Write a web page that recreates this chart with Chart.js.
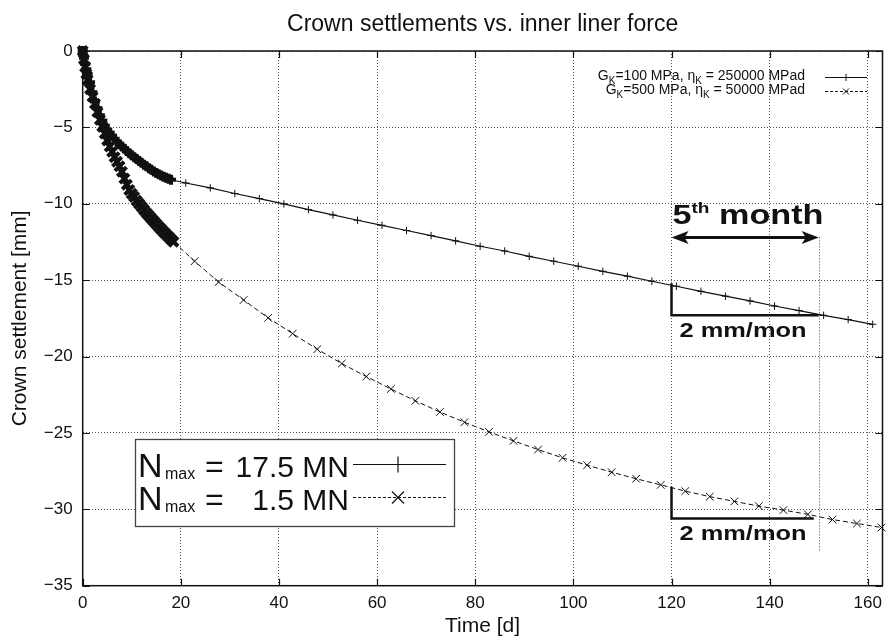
<!DOCTYPE html>
<html>
<head>
<meta charset="utf-8">
<script src="https://cdn.jsdelivr.net/npm/chart.js@4.4.1/dist/chart.umd.min.js"></script>
<style>
  html, body { margin: 0; padding: 0; background: #fff; }
  #wrap { width: 893px; height: 640px; }
</style>
</head>
<body>
<div id="wrap"><canvas id="chart" width="893" height="640"></canvas></div>
<script>
// ---- data ----
const titleText = "Crown settlements vs. inner liner force";
const xTitle = "Time [d]";
const yTitle = "Crown settlement [mm]";
const xTickValues = [0, 20, 40, 60, 80, 100, 120, 140, 160];
const yTickValues = [0, -5, -10, -15, -20, -25, -30, -35];

// N_max = 17.5 MN (G_K=100 MPa, eta_K = 250000 MPad), solid line with +
const stiffDays = [0, 0.25, 0.5, 0.75, 1, 1.5, 2, 2.5, 3, 3.5, 4, 4.5, 5, 5.5, 6, 6.5, 7, 7.5, 8, 8.5, 9, 9.5,
  10, 10.5, 11, 11.5, 12, 12.5, 13, 13.5, 14, 14.5, 15, 15.5, 16, 16.5, 17, 17.5, 18,
  21, 26, 31, 36, 41, 46, 51, 56, 61, 66, 71, 76, 81, 86, 91, 96, 101, 106, 111, 116, 121, 126, 131,
  136, 141, 146, 151, 156, 161];
const stiffSettle = [0, -0.45, -0.85, -1.2, -1.5, -2.05, -2.7, -3.3, -3.75, -4.2, -4.55, -4.9, -5.15, -5.35, -5.55, -5.75, -5.95, -6.1, -6.25, -6.4, -6.55, -6.7,
  -6.82, -6.95, -7.07, -7.2, -7.32, -7.45, -7.55, -7.67, -7.78, -7.88, -7.98, -8.07, -8.15, -8.23, -8.3, -8.37, -8.43,
  -8.64, -8.96, -9.33, -9.66, -10.01, -10.38, -10.73, -11.08, -11.41, -11.75, -12.08, -12.43, -12.78, -13.09, -13.44, -13.76, -14.09, -14.42, -14.74, -15.07, -15.4, -15.73, -16.05,
  -16.36, -16.69, -16.99, -17.3, -17.58, -17.89];

// N_max = 1.5 MN (G_K=500 MPa, eta_K = 50000 MPad), dashed line with x
const softDays = [0, 0.25, 0.5, 0.75, 1, 1.5, 2, 2.5, 3, 3.5, 4, 4.5, 5, 5.5, 6, 6.5, 7, 7.5, 8, 8.5, 9, 9.5,
  10, 10.5, 11, 11.5, 12, 12.5, 13, 13.5, 14, 14.5, 15, 15.5, 16, 16.5, 17, 17.5, 18, 18.5,
  22.8, 27.7, 32.8, 37.8, 42.8, 47.8, 52.8, 57.8, 62.8, 67.8, 72.8, 77.8, 82.8, 87.8, 92.8, 97.8, 102.8, 107.8,
  112.8, 117.8, 122.8, 127.8, 132.8, 137.8, 142.8, 147.8, 152.8, 157.8, 162.8];
const softSettle = [0, -0.55, -1.05, -1.5, -1.9, -2.5, -3.0, -3.45, -4.0, -4.5, -4.95, -5.4, -5.85, -6.25, -6.6, -6.95, -7.25, -7.55, -7.9, -8.35, -8.75, -9.1,
  -9.35, -9.55, -9.8, -10.0, -10.2, -10.4, -10.6, -10.78, -10.96, -11.14, -11.32, -11.5, -11.67, -11.84, -12.0, -12.16, -12.32, -12.48,
  -13.76, -15.12, -16.3, -17.47, -18.5, -19.52, -20.46, -21.31, -22.12, -22.9, -23.63, -24.3, -24.93, -25.52, -26.09, -26.63, -27.11, -27.57,
  -28.0, -28.4, -28.81, -29.17, -29.48, -29.79, -30.05, -30.33, -30.67, -30.93, -31.19];

const keyLabels = [
  [["G", 0], ["K", 1], ["=100 MPa, \u03b7", 0], ["K", 1], [" = 250000 MPad", 0]],
  [["G", 0], ["K", 1], ["=500 MPa, \u03b7", 0], ["K", 1], [" = 50000 MPad", 0]]
];
const forceLabels = ["17.5 MN", "1.5 MN"];

// annotation anchors (data units)
const monthStart = 120, monthEnd = 150, monthArrowY = -12.2;
const slopeMarks = [
  { top: -15.2, bottom: -17.3, end: 150, textY: -18.72 },
  { top: -28.53, bottom: -30.6, end: 149, textY: -32.0 }
];

const FONT = "'Liberation Sans', Arial, Helvetica, sans-serif";
const INK = "#111";
const DENSE_END = 19; // hourly readings before this day are drawn as heavy blobs

function toPoints(xs, ys) {
  return xs.map((x, i) => ({ x: x, y: ys[i] }));
}

function drawMark(ctx, style, x, y, r, lw) {
  ctx.save();
  ctx.lineWidth = lw;
  ctx.strokeStyle = INK;
  ctx.setLineDash([]);
  ctx.beginPath();
  if (style === "cross") {
    ctx.moveTo(x - r, y); ctx.lineTo(x + r, y);
    ctx.moveTo(x, y - r); ctx.lineTo(x, y + r);
  } else {
    ctx.moveTo(x - r, y - r); ctx.lineTo(x + r, y + r);
    ctx.moveTo(x - r, y + r); ctx.lineTo(x + r, y - r);
  }
  ctx.stroke();
  ctx.restore();
}

// draws runs of text {t, size, dy}, squeezed/stretched to a target width
function drawRunsFit(ctx, runs, x, y, weight, target) {
  let w = 0;
  runs.forEach(r => { ctx.font = weight + " " + r.size + "px " + FONT; w += ctx.measureText(r.t).width; });
  ctx.save();
  ctx.translate(x, y);
  if (target) ctx.scale(target / w, 1);
  let cx = 0;
  ctx.textAlign = "left";
  ctx.textBaseline = "alphabetic";
  runs.forEach(r => {
    ctx.font = weight + " " + r.size + "px " + FONT;
    ctx.fillText(r.t, cx, r.dy || 0);
    cx += ctx.measureText(r.t).width;
  });
  ctx.restore();
}

const decor = {
  id: "decor",
  afterDraw(chart) {
    const ctx = chart.ctx;
    const { left, top, right, bottom } = chart.chartArea;
    const xs = chart.scales.x, ys = chart.scales.y;
    ctx.save();
    ctx.fillStyle = INK;
    ctx.strokeStyle = INK;

    // title
    ctx.font = "23px " + FONT;
    ctx.textAlign = "center";
    ctx.textBaseline = "middle";
    ctx.fillText(titleText, (left + right) / 2, 25);

    // frame and inward ticks
    ctx.lineWidth = 1.5;
    ctx.strokeRect(left, top, right - left, bottom - top);
    ctx.lineWidth = 1.2;
    ctx.beginPath();
    xTickValues.forEach(v => {
      const p = Math.round(xs.getPixelForValue(v)) + 0.5;
      ctx.moveTo(p, bottom); ctx.lineTo(p, bottom - 7);
      ctx.moveTo(p, top); ctx.lineTo(p, top + 7);
    });
    yTickValues.forEach(v => {
      const p = Math.round(ys.getPixelForValue(v)) + 0.5;
      ctx.moveTo(left, p); ctx.lineTo(left + 7, p);
      ctx.moveTo(right, p); ctx.lineTo(right - 7, p);
    });
    ctx.stroke();

    // 5th month annotation
    const mx0 = xs.getPixelForValue(monthStart), mx1 = xs.getPixelForValue(monthEnd);
    const my = ys.getPixelForValue(monthArrowY);
    ctx.save();
    ctx.lineWidth = 1;
    ctx.strokeStyle = "#444";
    ctx.setLineDash([1, 2]);
    ctx.beginPath();
    ctx.moveTo(Math.round(mx1) + 0.5, my);
    ctx.lineTo(Math.round(mx1) + 0.5, ys.getPixelForValue(-32.8));
    ctx.stroke();
    ctx.restore();

    ctx.lineWidth = 3;
    ctx.beginPath();
    ctx.moveTo(mx0 + 10, my); ctx.lineTo(mx1 - 10, my);
    ctx.stroke();
    ctx.beginPath();
    ctx.moveTo(mx0, my); ctx.lineTo(mx0 + 17, my - 6.5); ctx.lineTo(mx0 + 13, my); ctx.lineTo(mx0 + 17, my + 6.5); ctx.closePath();
    ctx.moveTo(mx1, my); ctx.lineTo(mx1 - 17, my - 6.5); ctx.lineTo(mx1 - 13, my); ctx.lineTo(mx1 - 17, my + 6.5); ctx.closePath();
    ctx.fill();
    drawRunsFit(ctx, [{ t: "5", size: 27 }, { t: "th", size: 15, dy: -11 }, { t: " month", size: 27 }],
      mx0 + 1, my - 13, "bold", 151);

    // slope triangles
    ctx.lineWidth = 2.5;
    ctx.lineJoin = "miter";
    slopeMarks.forEach(s => {
      const x0 = xs.getPixelForValue(monthStart), x1 = xs.getPixelForValue(s.end);
      ctx.beginPath();
      ctx.moveTo(x0, ys.getPixelForValue(s.top));
      ctx.lineTo(x0, ys.getPixelForValue(s.bottom));
      ctx.lineTo(x1, ys.getPixelForValue(s.bottom));
      ctx.stroke();
      drawRunsFit(ctx, [{ t: "2 mm/mon", size: 21 }], x0 + 8, ys.getPixelForValue(s.textY), "bold", 127);
    });

    // key, top right
    ctx.lineWidth = 1;
    keyLabels.forEach((runs, i) => {
      const base = 80 + i * 14;
      let w = 0;
      runs.forEach(r => { ctx.font = (r[1] ? 10 : 14) + "px " + FONT; w += ctx.measureText(r[0]).width; });
      let x = 805 - w;
      ctx.textAlign = "left";
      ctx.textBaseline = "alphabetic";
      runs.forEach(r => {
        ctx.font = (r[1] ? 10 : 14) + "px " + FONT;
        ctx.fillText(r[0], x, base + (r[1] ? 4 : 0));
        x += ctx.measureText(r[0]).width;
      });
      const ly = base - 3 + 0.5;
      ctx.save();
      ctx.setLineDash(i === 0 ? [] : [3, 2]);
      ctx.beginPath();
      ctx.moveTo(825, ly); ctx.lineTo(867, ly);
      ctx.stroke();
      ctx.restore();
      drawMark(ctx, i === 0 ? "cross" : "x", 846, ly, i === 0 ? 3.5 : 3, 1);
    });

    // N_max box, bottom left
    ctx.fillStyle = "#fff";
    ctx.fillRect(135, 439, 319, 87);
    ctx.strokeStyle = "#444";
    ctx.lineWidth = 1.3;
    ctx.strokeRect(135.5, 439.5, 319, 87);
    ctx.fillStyle = INK;
    ctx.strokeStyle = INK;
    forceLabels.forEach((lab, i) => {
      const base = 477 + i * 33;
      ctx.textBaseline = "alphabetic";
      ctx.textAlign = "left";
      ctx.font = "34px " + FONT;
      ctx.fillText("N", 138, base);
      ctx.font = "16px " + FONT;
      ctx.fillText("max", 165, base + 2);
      ctx.font = "32px " + FONT;
      ctx.fillText("=", 205, base);
      ctx.textAlign = "right";
      ctx.font = "30px " + FONT;
      ctx.fillText(lab, 349, base);
      const ly = base - 12.5;
      ctx.save();
      ctx.lineWidth = 1;
      ctx.setLineDash(i === 0 ? [] : [3, 2]);
      ctx.beginPath();
      ctx.moveTo(353, ly); ctx.lineTo(446, ly);
      ctx.stroke();
      ctx.restore();
      drawMark(ctx, i === 0 ? "cross" : "x", 398, ly, i === 0 ? 8 : 6, 1.2);
    });
    ctx.restore();
  }
};

const isDense = c => c.raw && c.raw.x < DENSE_END;

new Chart(document.getElementById("chart"), {
  type: "line",
  data: {
    datasets: [
      {
        label: "N_max = 17.5 MN",
        data: toPoints(stiffDays, stiffSettle),
        borderColor: INK,
        borderWidth: 1.2,
        pointStyle: "cross",
        pointRadius: c => (isDense(c) ? 5 : 3.7),
        pointBorderWidth: c => (isDense(c) ? 4 : 1),
        pointBorderColor: INK,
        pointBackgroundColor: INK,
        tension: 0,
        clip: 6
      },
      {
        label: "N_max = 1.5 MN",
        data: toPoints(softDays, softSettle),
        borderColor: INK,
        borderWidth: 1,
        borderDash: [5, 3],
        pointStyle: "crossRot",
        pointRadius: c => (isDense(c) ? 6.5 : 5.4),
        pointBorderWidth: c => (isDense(c) ? 4 : 1),
        pointBorderColor: INK,
        pointBackgroundColor: INK,
        tension: 0,
        clip: 6
      }
    ]
  },
  options: {
    responsive: false,
    animation: false,
    devicePixelRatio: 1,
    layout: { padding: { left: 0, right: 5, top: 51, bottom: 0 } },
    plugins: { legend: { display: false }, title: { display: false }, tooltip: { enabled: false } },
    scales: {
      x: {
        type: "linear",
        min: 0,
        max: 163,
        afterBuildTicks: s => { s.ticks = xTickValues.map(v => ({ value: v })); },
        afterFit: s => { s.height = 54.3; },
        ticks: { color: INK, font: { family: FONT, size: 17 }, padding: 7, autoSkip: false, maxRotation: 0 },
        grid: { color: "#555", lineWidth: 1, drawTicks: false, borderDash: [1, 2] },
        border: { display: false, dash: [1, 2] },
        title: { display: true, text: xTitle, color: INK, font: { family: FONT, size: 21 }, padding: { top: 0, bottom: 1 } }
      },
      y: {
        type: "linear",
        min: -35,
        max: 0,
        afterBuildTicks: s => { s.ticks = yTickValues.map(v => ({ value: v })); },
        afterFit: s => { s.width = 82.7; },
        ticks: {
          color: INK,
          font: { family: FONT, size: 17 },
          padding: 10,
          callback: v => (v < 0 ? "\u2212" + (-v) : String(v))
        },
        grid: { color: "#555", lineWidth: 1, drawTicks: false, borderDash: [1, 2] },
        border: { display: false, dash: [1, 2] },
        title: { display: true, text: yTitle, color: INK, font: { family: FONT, size: 21 }, padding: { top: 8, bottom: 0 } }
      }
    }
  },
  plugins: [decor]
});
</script>
</body>
</html>
